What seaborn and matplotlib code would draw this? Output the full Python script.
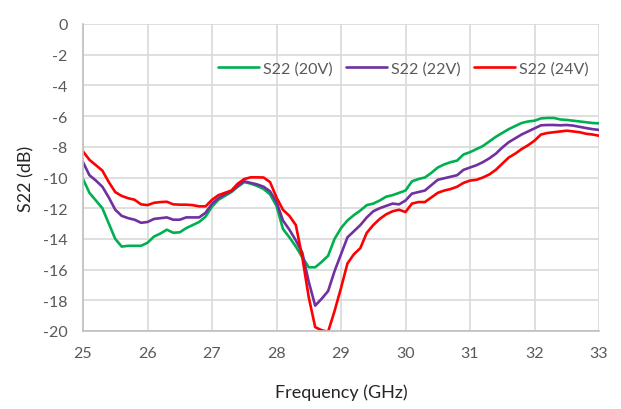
import numpy as np
import pandas as pd
import matplotlib
matplotlib.use("Agg")
import matplotlib.pyplot as plt
import seaborn as sns

freq = [25.0, 25.1, 25.2, 25.3, 25.4, 25.5, 25.6, 25.7, 25.8, 25.9,
        26.0, 26.1, 26.2, 26.3, 26.4, 26.5, 26.6, 26.7, 26.8, 26.9,
        27.0, 27.1, 27.2, 27.3, 27.4, 27.5, 27.6, 27.7, 27.8, 27.9,
        28.0, 28.1, 28.2, 28.3, 28.4, 28.5, 28.6, 28.7, 28.8, 28.9,
        29.0, 29.1, 29.2, 29.3, 29.4, 29.5, 29.6, 29.7, 29.8, 29.9,
        30.0, 30.1, 30.2, 30.3, 30.4, 30.5, 30.6, 30.7, 30.8, 30.9,
        31.0, 31.1, 31.2, 31.3, 31.4, 31.5, 31.6, 31.7, 31.8, 31.9,
        32.0, 32.1, 32.2, 32.3, 32.4, 32.5, 32.6, 32.7, 32.8, 32.9, 33.0]

s22_20v = [-10.1, -11.0, -11.5, -12.0, -13.0, -14.0, -14.5, -14.45, -14.45, -14.45,
           -14.25, -13.85, -13.65, -13.4, -13.6, -13.57, -13.3, -13.1, -12.9, -12.55,
           -11.9, -11.45, -11.2, -10.95, -10.6, -10.3, -10.4, -10.55, -10.75, -11.1,
           -11.85, -13.35, -13.9, -14.5, -15.2, -15.85, -15.85, -15.5, -15.1, -14.0,
           -13.3, -12.8, -12.45, -12.15, -11.8, -11.7, -11.5, -11.25, -11.15, -11.0,
           -10.85, -10.25, -10.1, -10.0, -9.7, -9.35, -9.15, -9.0, -8.9, -8.5,
           -8.35, -8.15, -7.95, -7.65, -7.35, -7.1, -6.85, -6.65, -6.45, -6.35,
           -6.3, -6.15, -6.12, -6.12, -6.22, -6.25, -6.3, -6.35, -6.4, -6.45, -6.47]

s22_22v = [-9.0, -9.85, -10.2, -10.6, -11.3, -12.1, -12.5, -12.65, -12.75, -12.95,
           -12.9, -12.7, -12.65, -12.6, -12.75, -12.75, -12.6, -12.6, -12.6, -12.3,
           -11.7, -11.35, -11.1, -10.9, -10.55, -10.25, -10.35, -10.45, -10.6, -10.9,
           -11.6, -12.8, -13.4, -14.1, -14.9, -16.8, -18.35, -17.9, -17.4, -16.1,
           -15.0, -13.9, -13.5, -13.1, -12.6, -12.2, -12.0, -11.85, -11.7, -11.75,
           -11.5, -11.05, -10.95, -10.85, -10.5, -10.15, -10.05, -9.95, -9.85, -9.5,
           -9.35, -9.2, -9.0, -8.75, -8.45, -8.05, -7.7, -7.45, -7.2, -7.0,
           -6.8, -6.6, -6.58, -6.58, -6.6, -6.58, -6.62, -6.7, -6.78, -6.85, -6.9]

s22_24v = [-8.3, -8.85, -9.2, -9.55, -10.3, -10.95, -11.2, -11.35, -11.45, -11.75,
           -11.8, -11.65, -11.6, -11.58, -11.75, -11.77, -11.77, -11.8, -11.88, -11.88,
           -11.45, -11.15, -11.0, -10.85, -10.4, -10.1, -9.99, -9.99, -10.0, -10.3,
           -11.3, -12.1, -12.5, -13.1, -15.2, -17.8, -19.75, -19.95, -20.05, -18.7,
           -17.2, -15.6, -15.0, -14.6, -13.6, -13.1, -12.7, -12.4, -12.2, -12.1,
           -12.25, -11.7, -11.6, -11.6, -11.3, -11.0, -10.85, -10.75, -10.6, -10.35,
           -10.2, -10.15, -10.0, -9.8, -9.5, -9.1, -8.7, -8.45, -8.15, -7.9,
           -7.6, -7.2, -7.1, -7.05, -7.0, -6.95, -7.0, -7.05, -7.15, -7.2, -7.28]

series_names = ["S22 (20V)", "S22 (22V)", "S22 (24V)"]
colors = ["#00B050", "#7030A0", "#FF0000"]
x_ticks = [25, 26, 27, 28, 29, 30, 31, 32, 33]
y_ticks = [0, -2, -4, -6, -8, -10, -12, -14, -16, -18, -20]

df = pd.DataFrame({
    "Frequency": freq * 3,
    "S22": s22_20v + s22_22v + s22_24v,
    "Series": [series_names[0]] * len(freq) + [series_names[1]] * len(freq) + [series_names[2]] * len(freq),
})

sns.set_theme(style="white")
plt.rcParams["font.family"] = ["Lato", "DejaVu Sans"]

fig = plt.figure(figsize=(6.21, 4.10), dpi=100)
ax = fig.add_axes([83 / 621, 1 - 332 / 410, (599 - 83) / 621, (332 - 25) / 410])

sns.lineplot(data=df, x="Frequency", y="S22", hue="Series", palette=colors,
             hue_order=series_names, linewidth=1.9, ax=ax)

ax.set_xlim(25, 33)
ax.set_ylim(-20, 0)
ax.set_xticks(x_ticks)
ax.set_yticks(y_ticks)
ax.set_xticklabels([str(t) for t in x_ticks])
ax.set_yticklabels([str(t) for t in y_ticks])
ax.grid(True, color="#D9D9D9", linewidth=1.2)
ax.set_axisbelow(True)
for side in ["top", "right"]:
    ax.spines[side].set_visible(False)
for side in ["left", "bottom"]:
    ax.spines[side].set_color("#BFBFBF")
    ax.spines[side].set_linewidth(1.2)
ax.tick_params(axis="x", colors="#595959", labelsize=11.5, length=0, pad=11)
ax.tick_params(axis="y", colors="#595959", labelsize=11.5, length=0, pad=11)
ax.set_xlabel("Frequency (GHz)", fontsize=13, color="#262626", labelpad=17)
ax.set_ylabel("S22 (dB)", fontsize=13, color="#262626", labelpad=6)

leg = ax.legend(loc="center", bbox_to_anchor=(0.621, 0.855), ncol=3, frameon=False,
                fontsize=11.5, handlelength=2.6, columnspacing=0.8, handletextpad=0.25)
for t in leg.get_texts():
    t.set_color("#595959")
for line in leg.get_lines():
    line.set_linewidth(1.9)

fig.savefig("out.png", dpi=100)
